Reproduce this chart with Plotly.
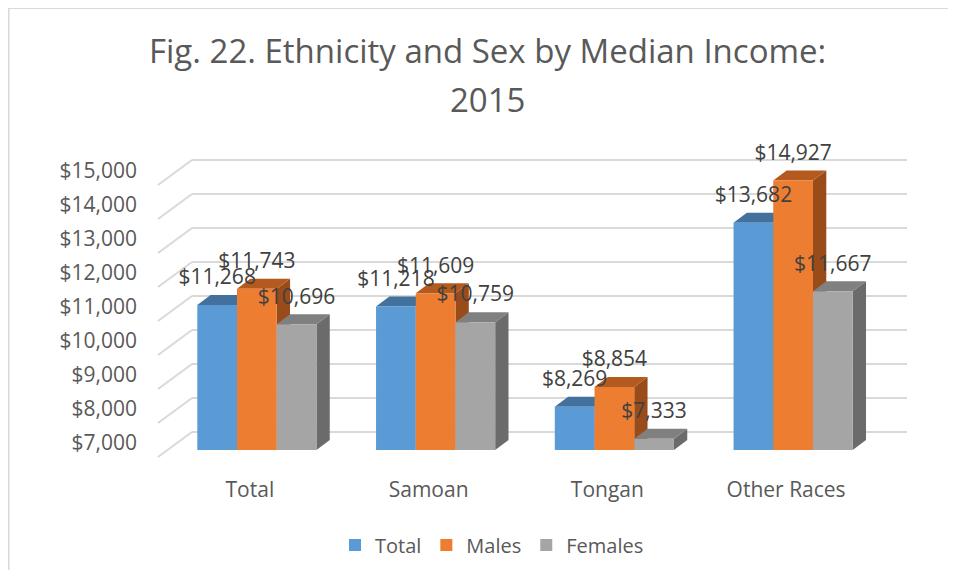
import plotly.graph_objects as go

# ---------------- data ----------------
categories = ["Total", "Samoan", "Tongan", "Other Races"]
series_names = ["Total", "Males", "Females"]
total_vals = [11268, 11218, 8269, 13682]
males_vals = [11743, 11609, 8854, 14927]
females_vals = [10696, 10759, 7333, 11667]
y_ticks = [7000, 8000, 9000, 10000, 11000, 12000, 13000, 14000, 15000]
y_tick_labels = ["$7,000", "$8,000", "$9,000", "$10,000", "$11,000",
                 "$12,000", "$13,000", "$14,000", "$15,000"]

series_vals = [total_vals, males_vals, females_vals]
front_colors = ["#5B9BD5", "#ED7D31", "#A5A5A5"]
top_colors = ["#41719C", "#B55A1F", "#808080"]
side_colors = ["#3A6690", "#9A4B1A", "#6B6B6B"]

# ---------------- geometry (pixels, in window coordinates) ----------------
OFF = 8                                  # page body margin
W, H = 956 - 2 * OFF, 578 - 2 * OFF
PL, PR, PT, PB = 150, 910, 140, 470      # plot area (window px)
BAR_LEFT_PX = 167.5                      # x of category -0.5 on bar plane
PX_PER_CAT = 178.75
BASE_VAL = 7000
BASE_PX = 450                            # pixel of base value on bar plane
PX_PER_USD = 0.034
FRONT_DX, FRONT_DY = -9.5, 7             # front plane offset from bar plane
BACK_DX, BACK_DY = 24.5, -18             # back wall offset from bar plane
DEPTH_DX, DEPTH_DY = 13.3, -10           # bar depth projection
LABEL_UP = 26                            # value label above bar top (px)
BARGAP = 1 / 3


def x_at(px):
    return -0.5 + (px - BAR_LEFT_PX) / PX_PER_CAT


def y_at(py):
    return BASE_VAL + (BASE_PX - py) / PX_PER_USD


def dxu(px):
    return px / PX_PER_CAT


def dyu(py):
    return -py / PX_PER_USD


x_range = [x_at(PL), x_at(PR)]
y_range = [y_at(PB), y_at(PT)]

fig = go.Figure()

n = len(series_vals)
w = (1 - BARGAP) / n
xs = list(range(len(categories)))

for i, (name, vals) in enumerate(zip(series_names, series_vals)):
    fig.add_trace(go.Bar(
        name=name, x=xs, y=[v - BASE_VAL for v in vals], base=BASE_VAL,
        marker=dict(color=front_colors[i], line=dict(width=0)),
        hoverinfo="skip",
    ))

shapes = []
grid_col = "#D9D9D9"
back_x0 = x_at(BAR_LEFT_PX + BACK_DX)
back_x1 = x_at(PR - 3)
front_x = x_at(BAR_LEFT_PX + FRONT_DX)
for v in y_ticks:
    shapes.append(dict(type="line", xref="x", yref="y", layer="below",
                       x0=back_x0, x1=back_x1, y0=v + dyu(BACK_DY), y1=v + dyu(BACK_DY),
                       line=dict(color=grid_col, width=2)))
    shapes.append(dict(type="line", xref="x", yref="y", layer="below",
                       x0=front_x, x1=back_x0, y0=v + dyu(FRONT_DY), y1=v + dyu(BACK_DY),
                       line=dict(color=grid_col, width=2)))

ddx, ddy = dxu(DEPTH_DX), dyu(DEPTH_DY)
lab_x, lab_y, lab_t = [], [], []
for i, vals in enumerate(series_vals):
    for j, v in enumerate(vals):
        c = j + (i - (n - 1) / 2) * w
        l, r = c - w / 2, c + w / 2
        side = (f"M {r},{BASE_VAL} L {r + ddx},{BASE_VAL + ddy} "
                f"L {r + ddx},{v + ddy} L {r},{v} Z")
        top = (f"M {l},{v} L {l + ddx},{v + ddy} L {r + ddx},{v + ddy} L {r},{v} Z")
        shapes.append(dict(type="path", xref="x", yref="y", layer="below", path=side,
                           fillcolor=side_colors[i], line=dict(width=0)))
        shapes.append(dict(type="path", xref="x", yref="y", layer="below", path=top,
                           fillcolor=top_colors[i], line=dict(width=0)))
        lab_x.append(c)
        lab_y.append(v + dyu(-LABEL_UP))
        lab_t.append(f"${v:,}")

fig.add_trace(go.Scatter(
    x=lab_x, y=lab_y, text=lab_t, mode="text", textposition="middle center",
    textfont=dict(family="Open Sans", size=21, color="#404040"),
    showlegend=False, hoverinfo="skip", cliponaxis=False,
))


def px_to_paper_x(px):
    return (px - PL) / (PR - PL)


def px_to_paper_y(py):
    return (PB - py) / (PB - PT)


shapes.append(dict(type="rect", xref="paper", yref="paper", layer="below",
                   x0=px_to_paper_x(8.5), x1=px_to_paper_x(975),
                   y0=px_to_paper_y(595), y1=px_to_paper_y(8),
                   line=dict(color="#D9D9D9", width=2)))

title_col = "#595959"
annotations = [
    dict(text="Fig. 22. Ethnicity and Sex by Median Income:", xref="paper", yref="paper",
         x=px_to_paper_x(487.5), y=px_to_paper_y(50), xanchor="center", yanchor="middle",
         showarrow=False, font=dict(family="Open Sans", size=33, color=title_col)),
    dict(text="2015", xref="paper", yref="paper",
         x=px_to_paper_x(487.5), y=px_to_paper_y(99), xanchor="center", yanchor="middle",
         showarrow=False, font=dict(family="Open Sans", size=33, color=title_col)),
]

fig.update_layout(
    width=W, height=H,
    margin=dict(l=PL - OFF, r=W - (PR - OFF), t=PT - OFF, b=H - (PB - OFF), autoexpand=False),
    paper_bgcolor="white", plot_bgcolor="white",
    barmode="group", bargap=BARGAP, bargroupgap=0,
    shapes=shapes, annotations=annotations,
    font=dict(family="Open Sans", size=21, color="#595959"),
    showlegend=True,
    legend=dict(orientation="h", x=px_to_paper_x(492), y=px_to_paper_y(545),
                xanchor="center", yanchor="middle",
                font=dict(family="Open Sans", size=20, color="#595959"),
                traceorder="normal", itemwidth=30),
    xaxis=dict(range=x_range, tickvals=xs, ticktext=categories, showgrid=False,
               zeroline=False, showline=False, ticks="", ticklabelshift=-7,
               ticklabelstandoff=5, fixedrange=True),
    yaxis=dict(range=y_range, tickvals=y_ticks, ticktext=y_tick_labels, showgrid=False,
               zeroline=False, showline=False, ticks="", ticklabelshift=-7,
               ticklabelstandoff=12, fixedrange=True),
)

fig.write_html("out.html")
